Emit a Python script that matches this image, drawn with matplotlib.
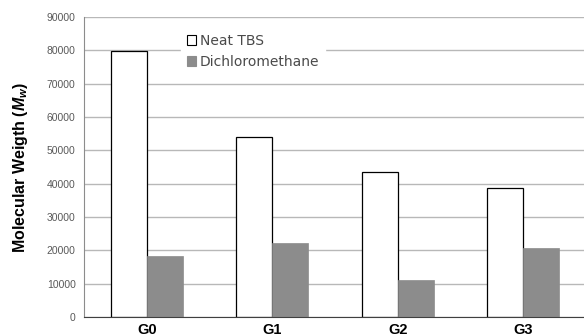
import matplotlib
matplotlib.use("Agg")
import matplotlib.pyplot as plt
import numpy as np

categories = ["G0", "G1", "G2", "G3"]
neat_tbs = [79700, 54000, 43500, 38800]
dichloromethane = [18200, 22200, 11200, 20600]
yticks = [0, 10000, 20000, 30000, 40000, 50000, 60000, 70000, 80000, 90000]

plt.rcParams['mathtext.fontset'] = 'custom'
plt.rcParams['mathtext.it'] = 'Liberation Sans:bold:italic'
plt.rcParams['mathtext.rm'] = 'Liberation Sans:bold'

fig = plt.figure(figsize=(5.84, 3.36), dpi=100)
ax = fig.add_axes([84/584, 19/336, (586-84)/584, (317-17)/336])

x = np.arange(len(categories))
w = 0.2857
ax.bar(x - w/2, neat_tbs, w, color='white', edgecolor='black', linewidth=0.9, label='Neat TBS', zorder=3)
ax.bar(x + w/2, dichloromethane, w, color='#8c8c8c', edgecolor='#8c8c8c', linewidth=0.5, label='Dichloromethane', zorder=3)

ax.set_xlim(-0.5, 3.5)
ax.set_ylim(0, 90000)
ax.set_yticks(yticks)
ax.set_yticklabels([str(v) for v in yticks], fontsize=7.5, color='#595959', family='Liberation Sans')
ax.set_xticks(x)
ax.set_xticklabels(categories, fontsize=10.5, fontweight='bold', family='Liberation Sans')
ax.tick_params(axis='both', length=0)
ax.tick_params(axis='y', pad=6)
ax.tick_params(axis='x', pad=4)
ax.yaxis.grid(True, color='#b8b8b8', linewidth=1.0, zorder=0)
ax.set_axisbelow(True)
for s in ['top', 'right']:
    ax.spines[s].set_visible(False)
ax.spines['left'].set_color('#8c8c8c')
ax.spines['bottom'].set_color('#404040')
ax.spines['left'].set_zorder(4)
ax.spines['bottom'].set_zorder(4)

ax.set_ylabel(r'Molecular Weigth ($M_w$)', fontsize=11.5, fontweight='bold', family='Liberation Sans', labelpad=12)

leg = ax.legend(loc='upper left', bbox_to_anchor=(0.18, 0.985), frameon=True, fancybox=False,
                edgecolor='white', framealpha=1.0, fontsize=10, handlelength=0.65, handleheight=0.65,
                handletextpad=0.3, labelspacing=0.5, borderpad=0.4)
for t in leg.get_texts():
    t.set_color('#4a4a4a')
for h in leg.legend_handles:
    h.set_linewidth(0.8)
leg.set_zorder(5)

fig.savefig('out.png', dpi=100)
